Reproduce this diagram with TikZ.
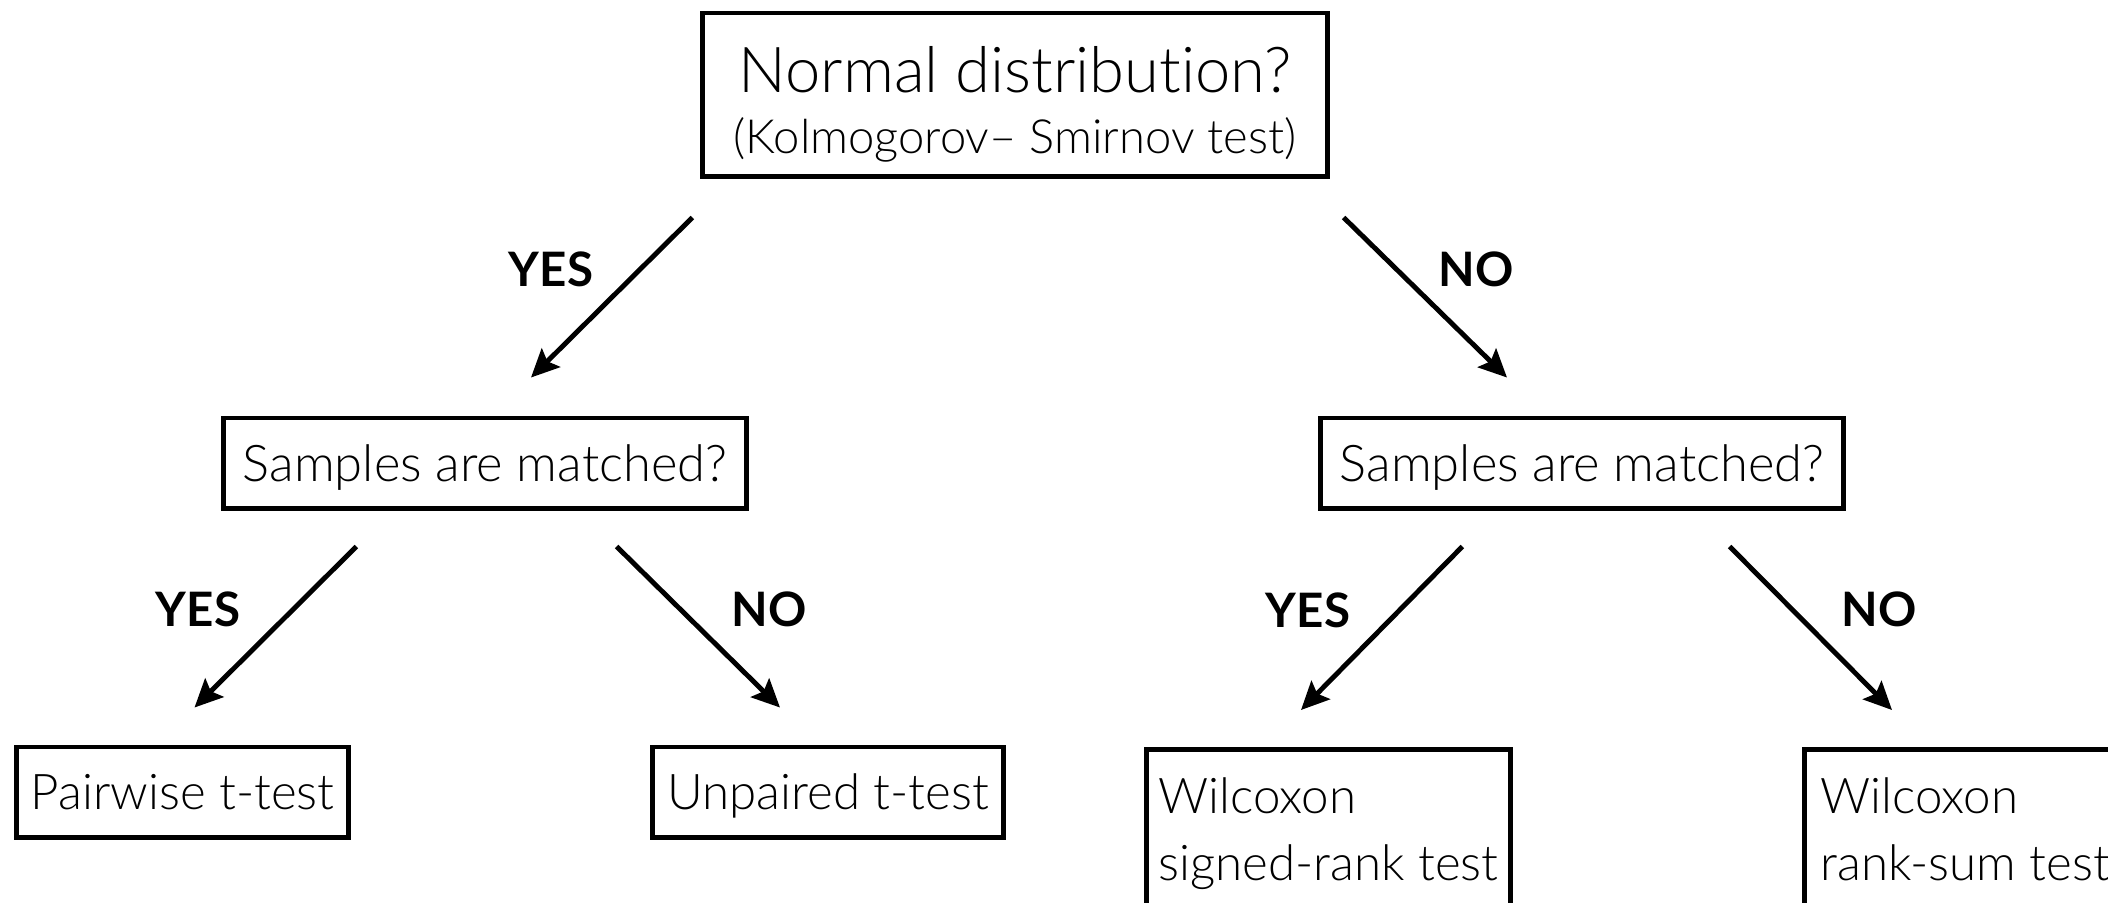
\documentclass[tikz,border=0pt]{standalone}
\usepackage{fontspec}
\setmainfont{Lato Light}[BoldFont={Lato Bold}, Ligatures=NoCommon]
\usetikzlibrary{arrows.meta}

\begin{document}
\begin{tikzpicture}[x=0.01cm, y=-0.01cm]
                \tikzstyle{box}=[draw=black, line width=1.4pt, inner sep=0pt, text=black, align=center, font=\fontsize{14}{15}\selectfont]
                \tikzstyle{answer}=[font=\bfseries\fontsize{13.5}{15}\selectfont, text=black, inner sep=0pt]
                \tikzstyle{arrow}=[black, line width=1.4pt, -{Stealth[length=0.28cm, width=0.26cm, inset=0.05cm]}]

                \clip (0,0) rectangle (2108,902);
                \useasboundingbox (0,0) rectangle (2108,902);

                % question boxes
                \node[box, minimum width=6.24cm, minimum height=1.63cm] (normal) at (1015,94.5)
                    {\rule{0pt}{18.5pt}{\fontsize{18}{20}\selectfont Normal distribution?}\\[2.4pt]{\fontsize{13.4}{15}\selectfont (Kolmogorov– Smirnov test)}};
                \node[box, text depth=0pt, minimum width=5.22cm, minimum height=0.90cm] (matchedL) at (485,463) {\fontsize{14.4}{15}\selectfont Samples are matched?};
                \node[box, text depth=0pt, minimum width=5.22cm, minimum height=0.90cm] (matchedR) at (1582,463) {\fontsize{14.4}{15}\selectfont Samples are matched?};

                % tests
                \node[box, text depth=0pt, minimum width=3.31cm, minimum height=0.90cm] (pairwise) at (182.5,792) {Pairwise t-test};
                \node[box, text depth=0pt, minimum width=3.50cm, minimum height=0.90cm] (unpaired) at (828,792) {Unpaired t-test};
                \node[box, anchor=north west, align=left, inner xsep=0.12cm, inner ysep=0.28cm] (signed) at (1144,747)
                    {Wilcoxon\\[4pt]signed-rank test};
                \node[box, anchor=north west, align=left, minimum width=3.2cm, inner xsep=0.16cm, inner ysep=0.28cm] (ranksum) at (1802,747)
                    {Wilcoxon\\[4pt]rank-sum test};

                % arrow ends
                \coordinate (n1) at ([shift={(-8,39)}]normal.south west);
                \coordinate (n2) at ([shift={(14,39)}]normal.south east);
                \coordinate (l1) at ([shift={(46,-38)}]matchedL.north);
                \coordinate (r1) at ([shift={(-75,-38)}]matchedR.north);
                \coordinate (l2) at ([shift={(135,36)}]matchedL.south west);
                \coordinate (l3) at ([shift={(-132,36)}]matchedL.south east);
                \coordinate (r2) at ([shift={(144,36)}]matchedR.south west);
                \coordinate (r3) at ([shift={(-116,36)}]matchedR.south east);
                \coordinate (p1) at ([shift={(12,-37)}]pairwise.north);
                \coordinate (u1) at ([shift={(-48,-37)}]unpaired.north);
                \coordinate (s1) at ([shift={(157,-37)}]signed.north west);
                \coordinate (k1) at ([shift={(90,-37)}]ranksum.north west);

                \draw[arrow] (n1) -- (l1);
                \draw[arrow] (n2) -- (r1);
                \draw[arrow] (l2) -- (p1);
                \draw[arrow] (l3) -- (u1);
                \draw[arrow] (r2) -- (s1);
                \draw[arrow] (r3) -- (k1);

                % answers
                \node[answer] (yes1) at (551,269) {YES};
                \node[answer] (no1) at (1476,269) {NO};
                \node[answer] (yes2) at (198,609) {YES};
                \node[answer] (no2) at (769,609) {NO};
                \node[answer] (yes3) at (1308,610) {YES};
                \node[answer] (no3) at (1879,609) {NO};
\end{tikzpicture}
\end{document}
